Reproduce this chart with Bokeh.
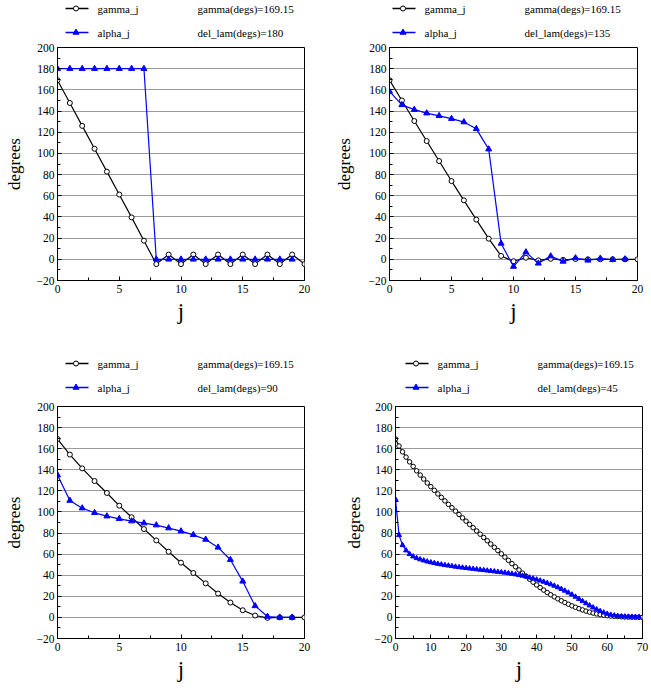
from bokeh.plotting import figure
from bokeh.models import FixedTicker, Range1d
from bokeh.layouts import column, row
from bokeh.core.properties import value
from bokeh.embed import file_html
from bokeh.resources import INLINE

# ---------------- data ----------------
j_20 = list(range(21))
j_19 = list(range(20))
j_70 = list(range(71))
j_69 = list(range(70))

series_labels = ["gamma_j", "alpha_j"]
gamma_label = "gamma(degs)=169.15"
del_lam_labels = ["del_lam(degs)=180", "del_lam(degs)=135", "del_lam(degs)=90", "del_lam(degs)=45"]

gamma_180 = [169.15, 147.6, 126.0, 104.4, 82.8, 61.2, 39.6, 17.6, -4.5, 4.5, -4.5,
             4.5, -4.5, 4.5, -4.5, 4.5, -4.5, 4.5, -4.5, 4.5, -4.5]
alpha_180 = [180, 180, 180, 180, 180, 180, 180, 180, 0, 0, 0, 0, 0, 0, 0, 0, 0, 0, 0, 0]

gamma_135 = [169.15, 150.0, 130.6, 111.7, 92.8, 73.9, 55.7, 37.5, 19.5, 3.2, -1.8,
             1.5, -1.0, 0.5, -0.5, 0.3, 0.0, 0.0, 0.0, 0.0, 0.0]
alpha_135 = [158.5, 145.8, 141.3, 138.0, 135.5, 132.8, 129.6, 123.2, 104.0, 15.0, -6.8,
             6.8, -3.8, 3.0, -2.0, 1.2, -1.0, 0.8, -0.4, 0.2]

gamma_90 = [169.15, 154.4, 141.3, 129.3, 118.0, 106.0, 95.0, 83.8, 73.0, 62.3, 51.9,
            42.1, 32.3, 22.6, 14.1, 6.8, 1.8, -0.4, 0.0, 0.0, 0.0]
alpha_90 = [135.0, 110.8, 103.6, 99.2, 96.0, 93.5, 91.3, 89.4, 87.5, 84.7, 81.8,
            78.3, 73.9, 66.4, 54.7, 34.2, 10.9, 0.8, 0.0, 0.0]

gamma_45 = [169.15, 162.5, 157.0, 152.0, 147.5, 143.2, 139.0, 135.0, 131.2, 127.5,
            124.0, 120.5, 117.1, 113.8, 110.5, 107.2, 104.0, 100.8, 97.6, 94.4,
            91.3, 88.2, 85.1, 82.0, 78.9, 75.8, 72.7, 69.6, 66.5, 63.4,
            60.3, 57.2, 54.1, 51.0, 48.0, 45.0, 42.0, 39.1, 36.2, 33.4,
            30.8, 28.3, 25.9, 23.6, 21.5, 19.5, 17.6, 15.8, 14.1, 12.5,
            11.0, 9.6, 8.3, 7.1, 6.0, 5.0, 4.1, 3.3, 2.6, 2.1,
            1.7, 1.3, 1.0, 0.8, 0.6, 0.4, 0.3, 0.2, 0.1, 0.05, 0.0]
alpha_45 = [112.0, 78.0, 68.5, 63.5, 60.0, 57.8, 56.2, 55.0, 54.0, 53.0,
            52.2, 51.5, 50.8, 50.2, 49.6, 49.1, 48.6, 48.1, 47.6, 47.2,
            46.8, 46.4, 46.0, 45.6, 45.2, 44.8, 44.4, 44.0, 43.6, 43.2,
            42.8, 42.4, 41.9, 41.4, 40.8, 40.2, 39.5, 38.7, 37.8, 36.9,
            35.9, 34.9, 33.8, 32.6, 31.3, 30.0, 28.5, 27.0, 25.3, 23.5,
            21.6, 19.6, 17.5, 15.4, 13.3, 11.3, 9.4, 7.6, 6.0, 4.6,
            3.4, 2.5, 1.8, 1.3, 1.0, 0.8, 0.7, 0.6, 0.5, 0.5]

y_ticks = [-20, 0, 20, 40, 60, 80, 100, 120, 140, 160, 180, 200]
y_minor = [-10, 10, 30, 50, 70, 90, 110, 130, 150, 170, 190]
x_ticks_20 = [0, 5, 10, 15, 20]
x_minor_20 = [2.5, 7.5, 12.5, 17.5]
x_ticks_70 = [0, 10, 20, 30, 40, 50, 60, 70]
x_minor_70 = [5, 15, 25, 35, 45, 55, 65]

SERIF = "Liberation Serif, Times New Roman, serif"
BLUE = "#0000ff"


def legend_strip(width, height, b_left, b_right, x_off, row_y, dl_label, msize_c, msize_t):
    """Key above a panel: sample line+marker, series name, parameter text.
    The strip's frame is aligned with the panel frame below it, so its x range
    is expressed in the strip's own pixel columns."""
    lf = figure(width=width, height=height, output_backend="svg",
                toolbar_location=None, x_range=Range1d(b_left, width - b_right),
                y_range=Range1d(0, height), x_axis_type=None, y_axis_type=None,
                min_border_left=b_left, min_border_right=b_right,
                min_border_top=0, min_border_bottom=0)
    lf.outline_line_color = None
    lf.background_fill_color = "white"
    lf.border_fill_color = "white"
    y1, y2 = row_y
    x0, x1 = x_off, x_off + 23
    xm = (x0 + x1) / 2.0 - 1
    lf.line([x0, x1], [y1, y1], line_color="black", line_width=1.3)
    lf.scatter([xm], [y1], marker="circle", size=msize_c, fill_color="white",
               line_color="black")
    lf.line([x0, x1], [y2, y2], line_color=BLUE, line_width=1.3)
    lf.scatter([xm], [y2], marker="triangle", size=msize_t, fill_color=BLUE,
               line_color=BLUE)
    lf.text(x=[x_off + 32, x_off + 32, x_off + 132, x_off + 132],
            y=[y1, y2, y1, y2],
            text=[series_labels[0], series_labels[1], gamma_label, dl_label],
            text_font=value(SERIF), text_font_size=value("11px"),
            text_color="black", text_align="left", text_baseline="middle")
    return lf


def panel(jg, g, ja, a, xmax, xt, xm, width, height,
          b_left, b_right, b_bottom, ylab_standoff, msize_c, msize_t):
    p = figure(width=width, height=height, output_backend="svg",
               toolbar_location=None, x_range=Range1d(0, xmax),
               y_range=Range1d(-20, 200),
               min_border_left=b_left, min_border_right=b_right,
               min_border_top=8, min_border_bottom=b_bottom)
    p.outline_line_color = "black"
    p.outline_line_width = 1
    p.background_fill_color = "white"
    p.border_fill_color = "white"

    p.xaxis.ticker = FixedTicker(ticks=xt, minor_ticks=xm)
    p.yaxis.ticker = FixedTicker(ticks=y_ticks, minor_ticks=y_minor)
    p.xgrid.visible = False
    p.ygrid.grid_line_color = "#9a9a9a"
    p.ygrid.grid_line_width = 1

    for ax in (p.xaxis[0], p.yaxis[0]):
        ax.axis_line_color = "black"
        ax.major_tick_line_color = "black"
        ax.minor_tick_line_color = "black"
        ax.major_tick_in = 4
        ax.major_tick_out = 0
        ax.minor_tick_in = 3
        ax.minor_tick_out = 0
        ax.major_label_text_font = SERIF
        ax.major_label_text_font_size = "11.5px"
        ax.major_label_text_color = "black"
        ax.axis_label_text_font = SERIF
        ax.axis_label_text_font_style = "normal"
        ax.axis_label_text_color = "black"

    p.xaxis.axis_label = "j"
    p.xaxis.axis_label_text_font_size = "23px"
    p.xaxis.major_label_standoff = 4
    p.xaxis.axis_label_standoff = 3
    p.yaxis.axis_label = "degrees"
    p.yaxis.axis_label_text_font_size = "17px"
    p.yaxis.major_label_standoff = 3
    p.yaxis.axis_label_standoff = ylab_standoff

    p.line(jg, g, line_color="black", line_width=1.2)
    p.scatter(jg, g, marker="circle", size=msize_c, fill_color="white",
              line_color="black", line_width=1)
    p.line(ja, a, line_color=BLUE, line_width=1.2)
    p.scatter(ja, a, marker="triangle", size=msize_t, fill_color=BLUE,
              line_color=BLUE, line_width=1)
    return p


# top row: strip 39 px + main 301 px ; bottom row: strip 58 px + main 294 px
l1 = legend_strip(325, 39, 57, 21, 65, (31, 7), del_lam_labels[0], 5, 6)
p1 = panel(j_20, gamma_180, j_19, alpha_180, 20, x_ticks_20, x_minor_20,
           325, 301, 57, 21, 60, 10, 5, 6)
l2 = legend_strip(326, 39, 64, 14, 67, (31, 7), del_lam_labels[1], 5, 6)
p2 = panel(j_20, gamma_135, j_19, alpha_135, 20, x_ticks_20, x_minor_20,
           326, 301, 64, 14, 60, 12, 5, 6)
l3 = legend_strip(325, 58, 57, 21, 65, (35, 11), del_lam_labels[2], 5, 6)
p3 = panel(j_20, gamma_90, j_19, alpha_90, 20, x_ticks_20, x_minor_20,
           325, 294, 57, 21, 54, 10, 5, 6)
l4 = legend_strip(326, 58, 70, 9, 80, (35, 11), del_lam_labels[3], 5, 6)
p4 = panel(j_70, gamma_45, j_69, alpha_45, 70, x_ticks_70, x_minor_70,
           326, 294, 70, 9, 54, 8, 4.5, 5)

layout = column(row(column(l1, p1), column(l2, p2)),
                row(column(l3, p3), column(l4, p4)))

with open("out.html", "w") as f:
    f.write(file_html(layout, INLINE))
